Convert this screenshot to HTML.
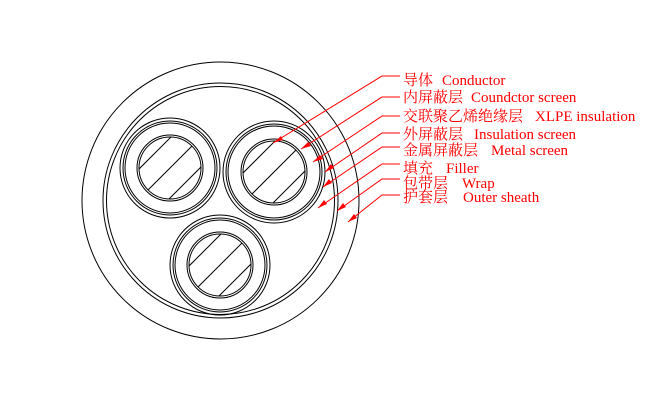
<!DOCTYPE html>
<html><head><meta charset="utf-8"><style>
html,body{margin:0;padding:0;background:#fff;}
svg{display:block;}
text{font-family:"Liberation Serif","Noto Serif CJK SC","Noto Sans CJK SC",serif;font-size:15px;fill:#f00;}
</style></head><body>
<svg width="650" height="407" viewBox="0 0 650 407" xmlns="http://www.w3.org/2000/svg">
<defs>
<clipPath id="c1"><circle cx="170" cy="168" r="31"/></clipPath>
<clipPath id="c2"><circle cx="274" cy="172" r="31"/></clipPath>
<clipPath id="c3"><circle cx="220" cy="265" r="31"/></clipPath>
<g id="h"><line x1="-60" y1="30" x2="30" y2="-60"/><line x1="-50" y1="50" x2="50" y2="-50"/><line x1="-30" y1="60" x2="60" y2="-30"/><line x1="-70" y1="10" x2="10" y2="-70"/><line x1="-10" y1="70" x2="70" y2="-10"/></g>
</defs>
<g fill="none" stroke="#000" stroke-width="1">
<circle cx="220.5" cy="200.5" r="138.5"/>
<circle cx="220.5" cy="200.5" r="117.5"/>
<circle cx="220.5" cy="200.5" r="114"/>
<g transform="translate(170,168)">
<circle r="50"/><circle r="47"/><circle r="45"/><circle r="33"/><circle r="31"/>
</g>
<g clip-path="url(#c1)"><use href="#h" transform="translate(170,168)"/></g>
<g transform="translate(274,172)">
<circle r="51"/><circle r="48"/><circle r="46"/><circle r="33"/><circle r="31"/>
</g>
<g clip-path="url(#c2)"><use href="#h" transform="translate(274,172)"/></g>
<g transform="translate(220,265)">
<circle r="50"/><circle r="47"/><circle r="45"/><circle r="33"/><circle r="31"/>
</g>
<g clip-path="url(#c3)"><use href="#h" transform="translate(220,265)"/></g>
</g>
<g stroke="#f00" stroke-width="1" fill="none">
<polyline points="400,76 382,76 273,143"/>
<polyline points="400,97 382,97 301,149"/>
<polyline points="400,116 382,116 313,162"/>
<polyline points="400,133 382,133 325,172"/>
<polyline points="400,147 382,147 323,187"/>
<polyline points="400,164 382,164 318,208"/>
<polyline points="400,179 382,179 337,211"/>
<polyline points="400,195 382,195 348,222"/>
</g>
<g fill="#f00">
<polygon points="273,143 281,136 283,140"/>
<polygon points="301,149 308,142 311,146"/>
<polygon points="313,162 320,155 323,159"/>
<polygon points="325,172 331,164 334,168"/>
<polygon points="323,187 329,179 332,183"/>
<polygon points="318,208 324,200 327,204"/>
<polygon points="337,211 343,203 346,207"/>
<polygon points="348,222 354,214 357,218"/>
</g>
<text x="403" y="85">导体</text><text x="442" y="85">Conductor</text>
<text x="403" y="102">内屏蔽层</text><text x="471" y="102">Coundctor screen</text>
<text x="403" y="121">交联聚乙烯绝缘层</text><text x="535" y="121">XLPE insulation</text>
<text x="403" y="139">外屏蔽层</text><text x="474" y="139">Insulation screen</text>
<text x="403" y="155">金属屏蔽层</text><text x="491" y="155">Metal screen</text>
<text x="403" y="173">填充</text><text x="446" y="173">Filler</text>
<text x="403" y="188">包带层</text><text x="462" y="188">Wrap</text>
<text x="403" y="202">护套层</text><text x="463" y="202">Outer sheath</text>
</svg>
</body></html>
